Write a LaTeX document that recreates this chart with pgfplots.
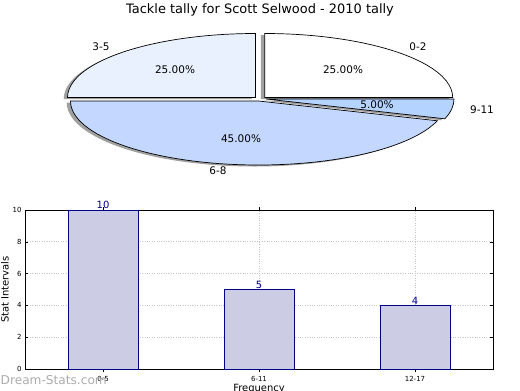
\documentclass[border=0pt]{standalone}
\usepackage{pgfplots}
\pgfplotsset{compat=1.18}
\usepackage{fontspec}
\setmainfont{DejaVu Sans}
\definecolor{cA}{RGB}{255,255,255}
\definecolor{cB}{RGB}{233,240,254}
\definecolor{cC}{RGB}{196,216,255}
\definecolor{cD}{RGB}{180,211,255}
\definecolor{barfill}{RGB}{204,204,229}
\definecolor{baredge}{RGB}{0,0,139}
\definecolor{shadowc}{RGB}{120,120,120}
\begin{document}
\begin{tikzpicture}[x=1bp,y=1bp]
\useasboundingbox (0,0) rectangle (520,390);
% ---------- pie (shares 25, 25, 45, 5 percent) ----------
\begin{axis}[at={(0,0)}, anchor=south west, scale only axis,
  width=520bp, height=390bp, xmin=0, xmax=520, ymin=0, ymax=390,
  y dir=reverse, hide axis, clip=false]
% shadows
\begin{scope}[shift={(-3.8bp,-1.5bp)}]
\fill[shadowc, opacity=0.7] (axis cs:264.7,97.5) -- ++(0:188bp and 64bp) arc[start angle=0, delta angle=25*3.6, x radius=188bp, y radius=64bp] -- cycle;
\fill[shadowc, opacity=0.7] (axis cs:255.5,97.5) -- ++(90:188bp and 64bp) arc[start angle=90, delta angle=25*3.6, x radius=188bp, y radius=64bp] -- cycle;
\fill[shadowc, opacity=0.7] (axis cs:258.5,101) -- ++(180:188bp and 64bp) arc[start angle=180, delta angle=45*3.6, x radius=188bp, y radius=64bp] -- cycle;
\fill[shadowc, opacity=0.7] (axis cs:266,99) -- ++(342:188bp and 64bp) arc[start angle=342, delta angle=5*3.6, x radius=188bp, y radius=64bp] -- cycle;
\end{scope}
% wedges
\filldraw[fill=cA, draw=black, line width=0.7bp] (axis cs:264.7,97.5) -- ++(0:188bp and 64bp) arc[start angle=0, delta angle=25*3.6, x radius=188bp, y radius=64bp] -- cycle;
\filldraw[fill=cB, draw=black, line width=0.7bp] (axis cs:255.5,97.5) -- ++(90:188bp and 64bp) arc[start angle=90, delta angle=25*3.6, x radius=188bp, y radius=64bp] -- cycle;
\filldraw[fill=cC, draw=black, line width=0.7bp] (axis cs:258.5,101) -- ++(180:188bp and 64bp) arc[start angle=180, delta angle=45*3.6, x radius=188bp, y radius=64bp] -- cycle;
\filldraw[fill=cD, draw=black, line width=0.7bp] (axis cs:266,99) -- ++(342:188bp and 64bp) arc[start angle=342, delta angle=5*3.6, x radius=188bp, y radius=64bp] -- cycle;
% labels
\begin{scope}[every node/.style={font=\fontsize{10.5}{12}\selectfont, inner sep=0pt}]
\node at (axis cs:418,47) {0-2};
\node at (axis cs:101,47) {3-5};
\node at (axis cs:218,171) {6-8};
\node at (axis cs:482,110) {9-11};
\node at (axis cs:343,70) {25.00\%};
\node at (axis cs:175,70) {25.00\%};
\node at (axis cs:241,139) {45.00\%};
\node at (axis cs:377,105) {5.00\%};
\end{scope}
\end{axis}
% ---------- bar chart ----------
\begin{axis}[at={(25bp,21bp)}, anchor=south west, scale only axis,
  width=468bp, height=159bp,
  xmin=-0.5, xmax=2.5, ymin=0, ymax=10,
  xtick={0,1,2}, xticklabels={0-5,6-11,12-17},
  ytick={0,2,4,6,8,10},
  tick pos=both, tick align=inside, major tick length=3bp,
  grid=major, grid style={dotted, gray!45, line width=0.9bp},
  axis line style={line width=0.8bp},
  tick style={black, line width=0.5bp},
  ticklabel style={font=\fontsize{7}{8}\selectfont},
  /pgf/number format/assume math mode=true,
  xticklabel style={yshift=-1bp},
  ylabel={Stat Intervals}, xlabel={Frequency},
  label style={font=\fontsize{10.5}{12}\selectfont},
  every axis y label/.style={at={(axis description cs:-0.0427,0.5)}, rotate=90, anchor=center},
  every axis x label/.style={at={(axis description cs:0.5,-0.126)}, anchor=center},
  ybar, bar width=70bp,
  nodes near coords,
  every node near coord/.append style={font=\fontsize{10}{12}\selectfont, text=baredge, inner sep=1pt},
  ]
\addplot[fill=barfill, draw=baredge, line width=0.7bp] coordinates {(0,10) (1,5) (2,4)};
\end{axis}
\node[font=\fontsize{13}{15}\selectfont] at (260,380) {Tackle tally for Scott Selwood - 2010 tally};
\node[font=\fontsize{12.2}{14}\selectfont, text=gray!65, inner sep=0pt, anchor=west] at (0.5,10) {Dream-Stats.com};
\end{tikzpicture}
\end{document}
